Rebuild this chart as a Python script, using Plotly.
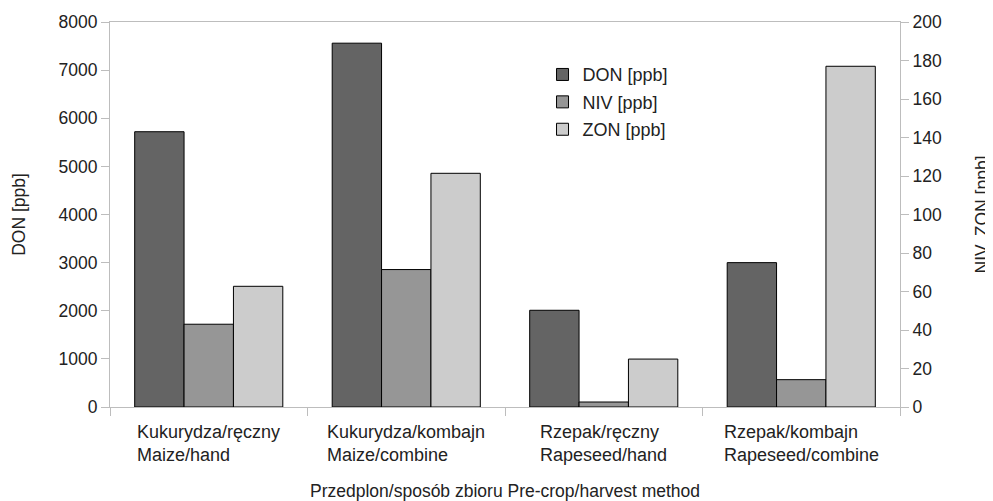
import plotly.graph_objects as go

categories = ["Kukurydza/ręczny<br>Maize/hand", "Kukurydza/kombajn<br>Maize/combine",
              "Rzepak/ręczny<br>Rapeseed/hand", "Rzepak/kombajn<br>Rapeseed/combine"]
cat_keys = ["c1", "c2", "c3", "c4"]
don = [5720, 7560, 2010, 3000]
niv = [43, 71.4, 2.6, 14.2]
zon = [62.7, 121.4, 24.9, 177]

FONT = "Liberation Sans, Arial, sans-serif"
TXT = "#222222"
AX = "#bdbdbd"
FS = 18
TFS = 17.5

fig = go.Figure()
fig.add_trace(go.Bar(x=cat_keys, y=don, name="DON [ppb]", yaxis="y", offsetgroup="1",
                     legendgroup="a",
                     marker=dict(color="#646464", line=dict(color="#000000", width=1))))
fig.add_trace(go.Bar(x=cat_keys, y=niv, name="NIV [ppb]", yaxis="y2", offsetgroup="2",
                     legendgroup="b",
                     marker=dict(color="#969696", line=dict(color="#000000", width=1))))
fig.add_trace(go.Bar(x=cat_keys, y=zon, name="ZON [ppb]", yaxis="y2", offsetgroup="3",
                     legendgroup="c",
                     marker=dict(color="#cccccc", line=dict(color="#000000", width=1))))

for k, lab in zip(cat_keys, categories):
    fig.add_annotation(x=k, xref="x", y=0, yref="paper", yshift=-13, text=lab,
                       showarrow=False, align="left", xanchor="center", yanchor="top",
                       font=dict(family=FONT, size=FS, color=TXT))

fig.add_annotation(x=0.5, xref="paper", y=0, yref="paper", yshift=-72,
                   text="Przedplon/sposób zbioru Pre-crop/harvest method", showarrow=False,
                   xanchor="center", yanchor="top", font=dict(family=FONT, size=TFS, color=TXT))

fig.update_layout(
    width=985, height=493,
    margin=dict(l=102, r=93, t=14, b=94, autoexpand=False),
    paper_bgcolor="white", plot_bgcolor="white",
    font=dict(family=FONT, size=FS, color=TXT),
    barmode="group", bargap=0.25, bargroupgap=0,
    showlegend=True,
    legend=dict(x=0.5475, y=0.911, xanchor="left", yanchor="top", bgcolor="rgba(0,0,0,0)",
                font=dict(family=FONT, size=FS, color=TXT), tracegroupgap=1, itemwidth=30),
    xaxis=dict(type="category", showticklabels=False, showline=True, linecolor=AX, linewidth=1,
               mirror=True, ticks="outside", tickson="boundaries", ticklen=8, tickcolor=AX,
               showgrid=False, zeroline=False, automargin=False),
    yaxis=dict(range=[0, 8000], dtick=1000, showline=True, linecolor=AX, linewidth=1,
               ticks="outside", ticklen=8, tickcolor=AX, showgrid=False, zeroline=False,
               automargin=False,
               title=dict(text="DON [ppb]", standoff=28, font=dict(family=FONT, size=TFS, color=TXT)),
               tickfont=dict(family=FONT, size=TFS, color=TXT)),
    yaxis2=dict(range=[0, 200], dtick=20, overlaying="y", side="right", showline=True,
                linecolor=AX, linewidth=1, ticks="outside", ticklen=8, tickcolor=AX,
                showgrid=False, zeroline=False, automargin=False,
                title=dict(text="NIV, ZON [ppb]", standoff=34, font=dict(family=FONT, size=TFS, color=TXT)),
                tickfont=dict(family=FONT, size=TFS, color=TXT)),
)

fig.write_html("out.html")
